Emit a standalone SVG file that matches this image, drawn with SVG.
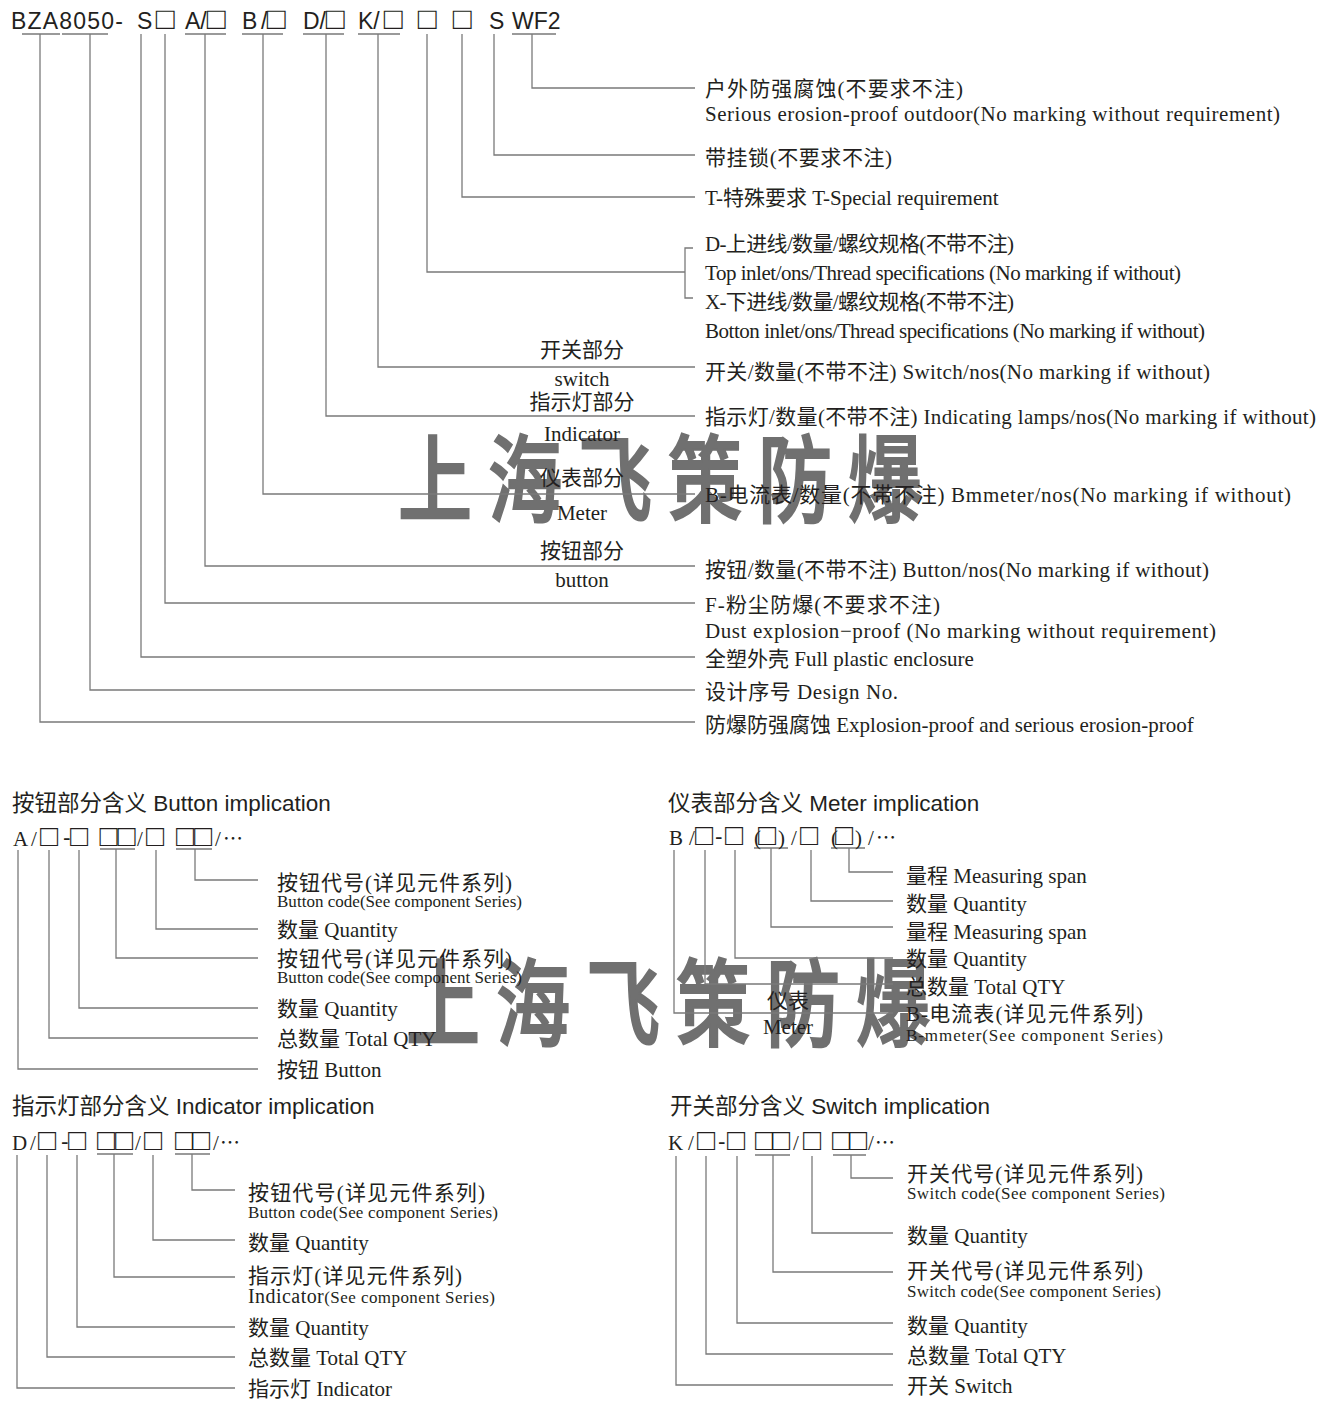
<svg xmlns="http://www.w3.org/2000/svg" width="1331" height="1410" viewBox="0 0 1331 1410">
<style>
text{fill:#231f20}
.t{font-family:'Liberation Serif','Noto Sans CJK SC',serif;font-size:21px}
.s{font-family:'Liberation Serif','Noto Sans CJK SC',serif;font-size:17px}
.hd{font-family:'Liberation Sans','Noto Sans CJK SC',sans-serif;font-size:23px}
.ti{font-family:'Liberation Sans','Noto Sans CJK SC',sans-serif;font-size:22.5px}
.bx{font-family:'Liberation Sans',sans-serif;font-size:30px;text-anchor:middle}
.hb{font-family:'Liberation Sans',sans-serif;font-size:31px;text-anchor:middle}
.el{font-family:'Noto Sans CJK SC',sans-serif;font-size:20px}
.m{text-anchor:middle}
.wm{font-family:'Noto Sans CJK SC',sans-serif;font-size:95px;font-weight:500;fill:#707070;stroke:#707070;stroke-width:2.2;letter-spacing:20.4px}
.c{fill:none;stroke:#7a7a7a;stroke-width:1.3}
</style>
<g id="watermark">
<text class="wm" transform="translate(398,515) scale(0.78,1)" x="0" y="0">上海飞策防爆</text>
<text class="wm" transform="translate(406,1039) scale(0.78,1)" x="0" y="0">上海飞策防爆</text>
</g>
<g id="connectors" class="c">
<path d="M22,34H60M62,34H108M185,34H226M242,34H283M303,34H344M358,34H400M512,34H556"/>
<path d="M532,34V88H695M494,34V155H695M462,34V197H695M427,34V272H685M693,248H685V298H693M378,34V367H695M326,34V416H695M263,34V494H695M205,34V566H695M165,34V603H695M141,34V657H695M90,34V690H695M40,34V722H695"/>
<path d="M100,849H135M176,849H212M195,849V880H258M156,850V929H258M116,849V958H258M79,850V1008H258M49,850V1038H258M18,850V1069H258"/>
<path d="M754,848H788M831,848H865M849,848V872H893M811,850V901H893M771,848V927H893M735,850V958H893M705,850V984H893M674,850V1013H893"/>
<path d="M97,1154H133M175,1154H210M192,1154V1190H235M153,1155V1240H235M114,1154V1277H235M77,1155V1327H235M47,1155V1357H235M17,1155V1388H235"/>
<path d="M755,1155H790M833,1155H866M851,1155V1178H893M812,1156V1233H893M773,1155V1272H893M737,1156V1323H893M706,1156V1354H893M676,1156V1385H893"/>
</g>
<g id="model-code">
<text class="hd" x="11" y="29" letter-spacing="1.2">BZA8050-</text>
<text class="hd" x="137" y="29">S</text>
<text class="hb" x="165" y="29">□</text>
<text class="hd" x="185" y="29">A/</text>
<text class="hb" x="216" y="29">□</text>
<text class="hd" x="242" y="29">B</text>
<text class="hd" x="261" y="29">/</text>
<text class="hb" x="276" y="29">□</text>
<text class="hd" x="303" y="29">D/</text>
<text class="hb" x="335" y="29">□</text>
<text class="hd" x="358" y="29">K/</text>
<text class="hb" x="393" y="29">□</text>
<text class="hb" x="427" y="29">□</text>
<text class="hb" x="462" y="29">□</text>
<text class="hd" x="489" y="29">S</text>
<text class="hd" x="512" y="29">WF2</text>
</g>
<g id="top-labels" class="t">
<text x="705" y="96" textLength="258">户外防强腐蚀(不要求不注)</text>
<text x="705" y="121" textLength="575">Serious erosion-proof outdoor(No marking without requirement)</text>
<text x="705" y="165" textLength="187">带挂锁(不要求不注)</text>
<text x="705" y="205">T-特殊要求 T-Special requirement</text>
<text x="705" y="251" textLength="309">D-上进线/数量/螺纹规格(不带不注)</text>
<text x="705" y="280" textLength="476">Top inlet/ons/Thread specifications (No marking if without)</text>
<text x="705" y="309" textLength="309">X-下进线/数量/螺纹规格(不带不注)</text>
<text x="705" y="338" textLength="500">Botton inlet/ons/Thread specifications (No marking if without)</text>
<text x="705" y="379" textLength="505">开关/数量(不带不注) Switch/nos(No marking if without)</text>
<text x="705" y="424" textLength="611">指示灯/数量(不带不注) Indicating lamps/nos(No marking if without)</text>
<text x="705" y="502" textLength="586">B-电流表/数量(不带不注)  Bmmeter/nos(No marking if without)</text>
<text x="705" y="577" textLength="504">按钮/数量(不带不注) Button/nos(No marking if without)</text>
<text x="705" y="612" textLength="235">F-粉尘防爆(不要求不注)</text>
<text x="705" y="638" textLength="511">Dust explosion−proof (No marking without requirement)</text>
<text x="705" y="666">全塑外壳 Full plastic enclosure</text>
<text x="705" y="699" textLength="193">设计序号  Design No.</text>
<text x="705" y="732">防爆防强腐蚀 Explosion-proof and serious erosion-proof</text>
</g>
<g id="part-labels" class="t m">
<text x="582" y="357">开关部分</text>
<text x="582" y="386">switch</text>
<text x="582" y="409">指示灯部分</text>
<text x="582" y="441">Indicator</text>
<text x="582" y="485">仪表部分</text>
<text x="582" y="520">Meter</text>
<text x="582" y="558">按钮部分</text>
<text x="582" y="587">button</text>
</g>
<g id="button-implication">
<text class="ti" x="12" y="811">按钮部分含义 Button implication</text>
<text class="t" x="13" y="846">A</text>
<text class="t" x="31" y="846">/</text>
<text class="bx" x="49" y="846">□</text>
<text class="ti" x="63" y="845">-</text>
<text class="bx" x="79" y="846">□</text>
<text class="bx" x="108.5" y="846">□</text>
<text class="bx" x="126.5" y="846">□</text>
<text class="t" x="137" y="846">/</text>
<text class="bx" x="155" y="846">□</text>
<text class="bx" x="185" y="846">□</text>
<text class="bx" x="203" y="846">□</text>
<text class="t" x="215" y="846">/</text>
<text class="el" x="223" y="846">…</text>
<text class="t" x="277" y="890" textLength="235">按钮代号(详见元件系列)</text>
<text class="s" x="277" y="907" textLength="245">Button code(See component Series)</text>
<text class="t" x="277" y="937">数量 Quantity</text>
<text class="t" x="277" y="966" textLength="235">按钮代号(详见元件系列)</text>
<text class="s" x="277" y="983" textLength="245">Button code(See component Series)</text>
<text class="t" x="277" y="1016">数量 Quantity</text>
<text class="t" x="277" y="1046">总数量 Total QTY</text>
<text class="t" x="277" y="1077">按钮 Button</text>
</g>
<g id="meter-implication">
<text class="ti" x="668" y="811">仪表部分含义 Meter implication</text>
<text class="t" x="669" y="845">B</text>
<text class="t" x="689" y="845">/</text>
<text class="bx" x="704" y="845">□</text>
<text class="ti" x="715" y="844">-</text>
<text class="bx" x="734" y="845">□</text>
<text class="t" x="754" y="845">(</text>
<text class="bx" x="767" y="845">□</text>
<text class="t" x="778" y="845">)</text>
<text class="t" x="791" y="845">/</text>
<text class="bx" x="809" y="845">□</text>
<text class="t" x="831" y="845">(</text>
<text class="bx" x="844" y="845">□</text>
<text class="t" x="855" y="845">)</text>
<text class="t" x="868" y="845">/</text>
<text class="el" x="876" y="845">…</text>
<text class="t" x="906" y="883">量程 Measuring span</text>
<text class="t" x="906" y="911">数量 Quantity</text>
<text class="t" x="906" y="939">量程 Measuring span</text>
<text class="t" x="906" y="966">数量 Quantity</text>
<text class="t" x="906" y="994">总数量 Total QTY</text>
<text class="t" x="906" y="1021" textLength="237">B-电流表(详见元件系列)</text>
<text class="s" x="906" y="1041" textLength="257">B-mmeter(See component Series)</text>
<text class="t m" x="788" y="1008">仪表</text>
<text class="t m" x="788" y="1034">Meter</text>
</g>
<g id="indicator-implication">
<text class="ti" x="12" y="1114">指示灯部分含义 Indicator implication</text>
<text class="t" x="12" y="1150">D</text>
<text class="t" x="30" y="1150">/</text>
<text class="bx" x="47" y="1150">□</text>
<text class="ti" x="61" y="1149">-</text>
<text class="bx" x="77" y="1150">□</text>
<text class="bx" x="106" y="1150">□</text>
<text class="bx" x="124" y="1150">□</text>
<text class="t" x="135" y="1150">/</text>
<text class="bx" x="153" y="1150">□</text>
<text class="bx" x="184" y="1150">□</text>
<text class="bx" x="201" y="1150">□</text>
<text class="t" x="213" y="1150">/</text>
<text class="el" x="220" y="1150">…</text>
<text class="t" x="248" y="1200" textLength="237">按钮代号(详见元件系列)</text>
<text class="s" x="248" y="1218" textLength="250">Button code(See  component Series)</text>
<text class="t" x="248" y="1250">数量 Quantity</text>
<text class="t" x="248" y="1283" textLength="214">指示灯(详见元件系列)</text>
<text class="s" x="248" y="1303" textLength="247"><tspan style="font-size:20px">Indicator</tspan>(See  component Series)</text>
<text class="t" x="248" y="1335">数量 Quantity</text>
<text class="t" x="248" y="1365">总数量 Total QTY</text>
<text class="t" x="248" y="1396">指示灯 Indicator</text>
</g>
<g id="switch-implication">
<text class="ti" x="670" y="1114">开关部分含义 Switch implication</text>
<text class="t" x="668" y="1150">K</text>
<text class="t" x="688" y="1150">/</text>
<text class="bx" x="706" y="1150">□</text>
<text class="ti" x="718" y="1149">-</text>
<text class="bx" x="736" y="1150">□</text>
<text class="bx" x="764" y="1150">□</text>
<text class="bx" x="781" y="1150">□</text>
<text class="t" x="793" y="1150">/</text>
<text class="bx" x="812" y="1150">□</text>
<text class="bx" x="841" y="1150">□</text>
<text class="bx" x="858" y="1150">□</text>
<text class="t" x="868" y="1150">/</text>
<text class="el" x="875" y="1150">…</text>
<text class="t" x="907" y="1181" textLength="236">开关代号(详见元件系列)</text>
<text class="s" x="907" y="1199" textLength="258">Switch code(See  component Series)</text>
<text class="t" x="907" y="1243">数量 Quantity</text>
<text class="t" x="907" y="1278" textLength="236">开关代号(详见元件系列)</text>
<text class="s" x="907" y="1297" textLength="254">Switch code(See component Series)</text>
<text class="t" x="907" y="1333">数量 Quantity</text>
<text class="t" x="907" y="1363">总数量 Total QTY</text>
<text class="t" x="907" y="1393">开关 Switch</text>
</g>
</svg>
